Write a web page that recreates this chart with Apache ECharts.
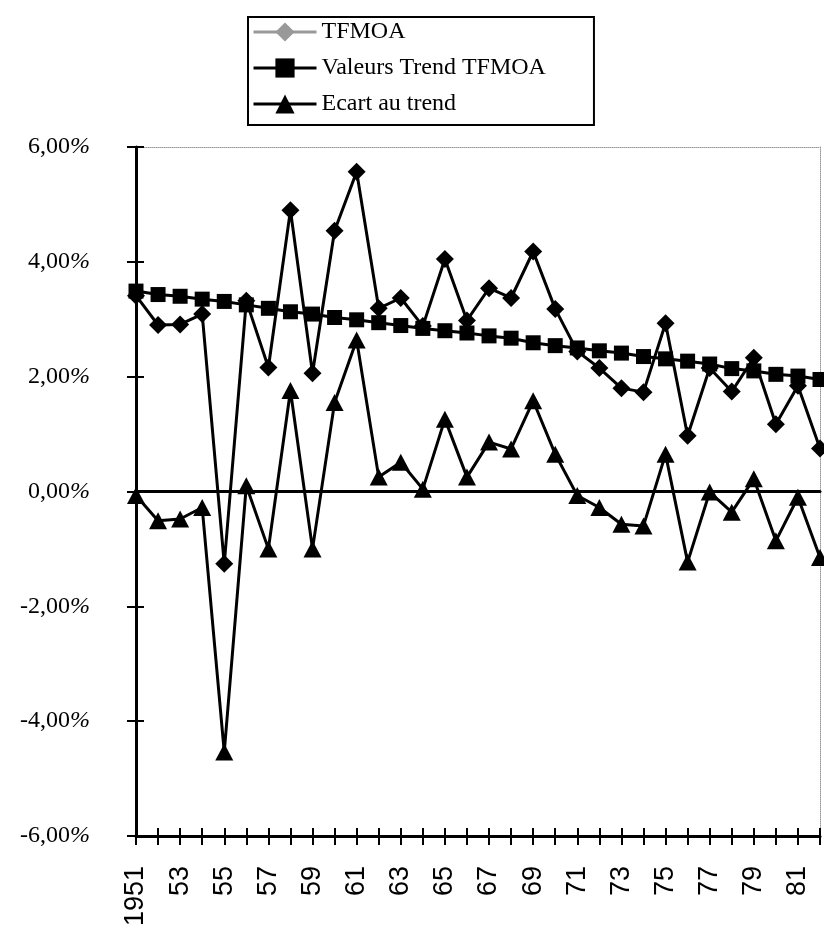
<!DOCTYPE html>
<html>
<head>
<meta charset="utf-8">
<script src="https://cdn.jsdelivr.net/npm/echarts@6/dist/echarts.min.js"></script>
<style>
html,body{margin:0;padding:0;background:#fff;}
#c{width:824px;height:929px;}
</style>
</head>
<body>
<div id="c"></div>
<script>
const years = ['1951','52','53','54','55','56','57','58','59','60','61','62','63','64','65','66','67','68','69','70','71','72','73','74','75','76','77','78','79','80','81','82'];
const tfmoa = [3.41,2.90,2.91,3.09,-1.26,3.32,2.16,4.90,2.06,4.54,5.57,3.19,3.37,2.88,4.05,2.98,3.54,3.37,4.18,3.18,2.44,2.15,1.80,1.73,2.93,0.97,2.15,1.74,2.33,1.17,1.84,0.75];
const trend = [3.49,3.43,3.40,3.35,3.31,3.25,3.19,3.13,3.09,3.03,2.99,2.94,2.89,2.84,2.80,2.76,2.71,2.67,2.59,2.54,2.50,2.45,2.41,2.35,2.31,2.27,2.22,2.14,2.10,2.04,2.01,1.95];
const ecart = [-0.07,-0.51,-0.48,-0.28,-4.54,0.10,-1.00,1.76,-1.00,1.55,2.64,0.25,0.51,0.04,1.26,0.25,0.86,0.74,1.58,0.65,-0.07,-0.28,-0.57,-0.60,0.65,-1.23,-0.01,-0.36,0.22,-0.86,-0.10,-1.15];
const seriesNames = ['TFMOA','Valeurs Trend TFMOA','Ecart au trend'];
const yMin = -6, yMax = 6, yStep = 2;

const chart = echarts.init(document.getElementById('c'), null, {renderer:'canvas'});
const catBase = {type:'category', data: years, boundaryGap:false, gridIndex:0};
const valBase = {type:'value', min:yMin, max:yMax, interval:yStep, splitLine:{show:false}, gridIndex:0};
const fmt = v => v.toFixed(2).replace('.', ',');

chart.setOption({
  animation:false,
  backgroundColor:'#fff',
  grid:{left:136, right:4, top:147, bottom:92, containLabel:false},
  legend:{
    orient:'vertical', left:248, top:17,
    itemWidth:63, itemHeight:24, itemGap:12,
    padding:[3,48,9,4],
    borderColor:'#000', borderWidth:2,
    lineStyle:{width:3},
    textStyle:{fontFamily:'Liberation Serif', fontSize:24, color:'#000', lineHeight:24},
    data:[
      {name:seriesNames[0], itemStyle:{color:'#999'}, lineStyle:{color:'#999', width:3}},
      {name:seriesNames[1]},
      {name:seriesNames[2]}
    ]
  },
  xAxis:[
    Object.assign({}, catBase, {
      position:'bottom',
      axisLine:{onZero:false, lineStyle:{color:'#000', width:3}},
      axisTick:{inside:false, length:9, interval:0, lineStyle:{color:'#000', width:2}},
      axisLabel:{interval:1, rotate:90, margin:30, fontFamily:'Liberation Sans', fontSize:27, color:'#000'}
    }),
    Object.assign({}, catBase, {
      position:'bottom',
      axisLine:{show:false, onZero:false},
      axisTick:{inside:true, length:8, interval:0, lineStyle:{color:'#000', width:2}},
      axisLabel:{show:false}
    }),
    Object.assign({}, catBase, {
      position:'top',
      axisLine:{onZero:false, lineStyle:{color:'#999', width:1, type:'dotted'}},
      axisTick:{show:false},
      axisLabel:{show:false}
    }),
    Object.assign({}, catBase, {
      position:'bottom',
      axisLine:{onZero:true, lineStyle:{color:'#000', width:3}},
      axisTick:{show:false},
      axisLabel:{show:false}
    })
  ],
  yAxis:[
    Object.assign({}, valBase, {
      position:'left',
      axisLine:{show:true, lineStyle:{color:'#000', width:3}},
      axisTick:{show:true, inside:false, length:9, lineStyle:{color:'#000', width:2}},
      axisLabel:{
        margin:46,
        formatter: v => '{n|' + fmt(v) + '}{p|%}',
        rich:{
          n:{fontFamily:'Liberation Serif', fontSize:24, color:'#000'},
          p:{fontFamily:'Liberation Serif', fontSize:24, fontStyle:'italic', color:'#000'}
        }
      }
    }),
    Object.assign({}, valBase, {
      position:'left',
      axisLine:{show:false},
      axisTick:{show:true, inside:true, length:8, lineStyle:{color:'#000', width:2}},
      axisLabel:{show:false}
    }),
    Object.assign({}, valBase, {
      position:'right',
      axisLine:{show:true, lineStyle:{color:'#999', width:1, type:'dotted'}},
      axisTick:{show:false},
      axisLabel:{show:false}
    })
  ],
  series:[
    {name:seriesNames[0], type:'line', data:tfmoa, xAxisIndex:0, yAxisIndex:0,
     symbol:'diamond', symbolSize:18, showSymbol:true, showAllSymbol:true,
     lineStyle:{color:'#000', width:3}, itemStyle:{color:'#000', borderWidth:0}, z:3},
    {name:seriesNames[1], type:'line', data:trend, xAxisIndex:0, yAxisIndex:0,
     symbol:'rect', symbolSize:15, showSymbol:true, showAllSymbol:true,
     lineStyle:{color:'#000', width:3}, itemStyle:{color:'#000', borderWidth:0}, z:4},
    {name:seriesNames[2], type:'line', data:ecart, xAxisIndex:0, yAxisIndex:0,
     symbol:'triangle', symbolSize:[18,17], showSymbol:true, showAllSymbol:true,
     lineStyle:{color:'#000', width:3}, itemStyle:{color:'#000', borderWidth:0}, z:5}
  ]
});
</script>
</body>
</html>
